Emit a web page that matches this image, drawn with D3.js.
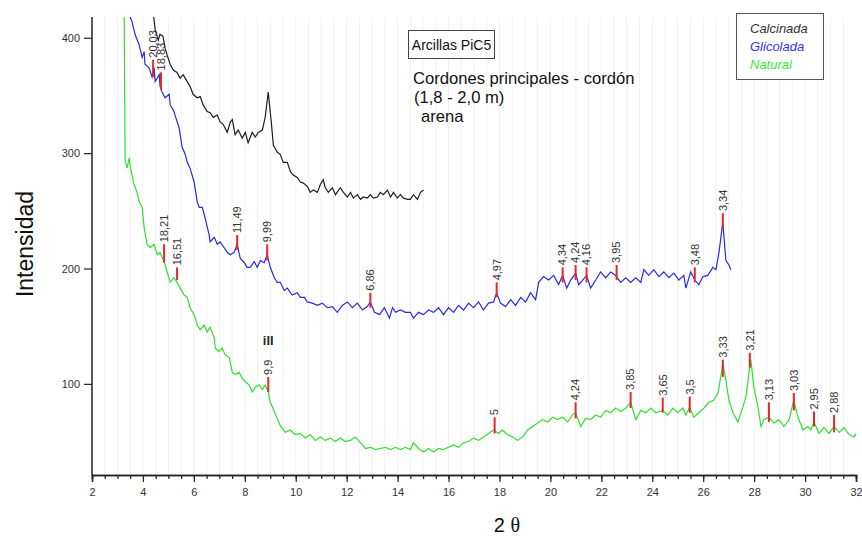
<!DOCTYPE html>
<html>
<head>
<meta charset="utf-8">
<script src="https://cdn.jsdelivr.net/npm/d3@7"></script>
<style>
  html, body { margin: 0; padding: 0; background: #fff; }
  svg { display: block; font-family: "Liberation Sans", Arial, sans-serif; }
</style>
</head>
<body>
<svg id="chart" width="862" height="538"></svg>
<script>
// ---------- DATA (2θ, intensidad) ----------
const xTicks = [2, 4, 6, 8, 10, 12, 14, 16, 18, 20, 22, 24, 26, 28, 30, 32];
const yTicks = [100, 200, 300, 400];
const seriesNames = ["Calcinada", "Glicolada", "Natural"];

const calcinada = [[4.36,430],[4.48,407],[4.60,398],[4.67,403],[4.79,401],[4.87,391],[4.95,385],[5.07,377],[5.19,372],[5.34,370],[5.46,365],[5.58,368],[5.74,362],[5.85,358],[5.97,351],[6.13,348],[6.25,349],[6.36,342],[6.52,336],[6.64,335],[6.76,331],[6.92,333],[7.03,327],[7.15,325],[7.31,318],[7.43,327],[7.51,329],[7.62,316],[7.74,320],[7.90,313],[8.02,318],[8.13,309],[8.29,318],[8.41,314],[8.53,318],[8.69,320],[8.80,331],[8.92,353],[9.04,327],[9.12,307],[9.27,301],[9.39,299],[9.51,292],[9.67,292],[9.79,284],[9.90,281],[10.06,279],[10.18,275],[10.30,274],[10.46,271],[10.57,266],[10.69,268],[10.85,266],[10.97,273],[11.08,277],[11.16,270],[11.28,266],[11.44,270],[11.56,264],[11.75,270],[11.87,266],[12.03,262],[12.15,266],[12.26,261],[12.42,264],[12.54,260],[12.66,262],[12.81,261],[12.93,264],[13.05,261],[13.21,262],[13.32,266],[13.44,264],[13.60,268],[13.72,262],[13.84,266],[13.99,261],[14.11,264],[14.23,261],[14.39,260],[14.50,260],[14.62,264],[14.78,260],[14.90,266],[15.02,268]];

const glicolada = [[3.34,430],[3.46,420],[3.57,414],[3.69,403],[3.85,394],[3.97,383],[4.05,388],[4.08,377],[4.24,374],[4.36,366],[4.44,374],[4.48,362],[4.64,368],[4.67,358],[4.75,353],[4.87,348],[5.03,351],[5.07,342],[5.22,336],[5.26,333],[5.42,322],[5.54,305],[5.66,299],[5.74,292],[5.85,287],[6.01,275],[6.13,258],[6.21,253],[6.33,253],[6.44,244],[6.60,229],[6.64,223],[6.80,227],[6.92,221],[7.03,223],[7.19,218],[7.31,214],[7.43,212],[7.58,214],[7.70,221],[7.82,209],[7.98,205],[8.09,201],[8.21,201],[8.37,206],[8.49,201],[8.61,207],[8.76,205],[8.88,212],[9.00,201],[9.16,192],[9.27,188],[9.39,188],[9.55,181],[9.67,183],[9.86,177],[10.06,179],[10.18,175],[10.34,175],[10.45,171],[10.65,170],[10.85,168],[11.04,170],[11.24,166],[11.44,167],[11.63,162],[11.83,168],[12.03,171],[12.22,166],[12.42,170],[12.62,164],[12.81,167],[12.93,171],[13.09,162],[13.29,160],[13.48,166],[13.68,157],[13.80,166],[13.92,162],[14.11,164],[14.31,162],[14.50,162],[14.62,157],[14.82,162],[15.02,160],[15.21,164],[15.41,162],[15.61,166],[15.80,160],[16.00,166],[16.20,162],[16.39,168],[16.59,164],[16.79,170],[16.98,166],[17.18,171],[17.37,164],[17.57,170],[17.77,171],[17.89,179],[18.04,170],[18.24,167],[18.44,173],[18.63,168],[18.83,175],[19.03,171],[19.22,179],[19.42,173],[19.54,188],[19.73,193],[19.93,190],[20.13,194],[20.32,186],[20.48,194],[20.64,183],[20.80,190],[20.99,196],[21.11,186],[21.27,190],[21.42,194],[21.58,183],[21.78,190],[21.97,197],[22.17,192],[22.37,197],[22.56,194],[22.76,188],[22.96,192],[23.15,188],[23.35,192],[23.55,188],[23.67,199],[23.86,194],[24.06,199],[24.26,193],[24.45,197],[24.65,192],[24.85,196],[25.04,190],[25.24,194],[25.32,183],[25.51,197],[25.67,190],[25.83,186],[25.99,193],[26.18,194],[26.38,201],[26.50,199],[26.62,214],[26.77,240],[26.89,207],[27.01,203],[27.09,199]];

const natural = [[3.26,430],[3.30,294],[3.38,287],[3.46,296],[3.49,290],[3.57,281],[3.65,273],[3.77,266],[3.85,258],[3.97,253],[4.05,235],[4.16,221],[4.28,218],[4.44,221],[4.56,212],[4.67,214],[4.83,206],[4.95,197],[5.07,188],[5.22,192],[5.34,188],[5.46,183],[5.62,177],[5.74,175],[5.85,166],[6.01,160],[6.13,151],[6.25,147],[6.40,151],[6.52,145],[6.64,149],[6.80,140],[6.84,131],[6.99,128],[7.11,131],[7.23,125],[7.39,123],[7.51,110],[7.62,108],[7.78,110],[7.90,105],[8.02,102],[8.17,99],[8.29,93],[8.41,97],[8.57,99],[8.69,95],[8.80,99],[8.92,93],[9.00,84],[9.16,76],[9.27,70],[9.39,64],[9.59,58],[9.79,60],[9.98,56],[10.18,57],[10.38,53],[10.57,56],[10.77,51],[10.97,54],[11.16,51],[11.36,53],[11.56,50],[11.75,53],[11.95,50],[12.15,51],[12.34,54],[12.54,49],[12.74,44],[12.93,45],[13.13,43],[13.32,44],[13.52,45],[13.72,43],[13.92,45],[14.11,43],[14.31,45],[14.50,43],[14.62,49],[14.82,44],[15.02,41],[15.21,44],[15.41,41],[15.61,44],[15.80,43],[16.00,45],[16.20,47],[16.39,45],[16.59,49],[16.79,50],[16.98,53],[17.18,51],[17.37,54],[17.57,57],[17.77,60],[17.96,57],[18.12,60],[18.32,56],[18.52,54],[18.71,51],[18.91,54],[19.11,60],[19.30,63],[19.50,66],[19.69,69],[19.89,67],[20.09,71],[20.28,69],[20.48,71],[20.68,67],[20.87,73],[20.99,75],[21.19,63],[21.38,70],[21.58,69],[21.78,73],[21.97,71],[22.17,77],[22.37,75],[22.56,79],[22.76,76],[22.96,79],[23.15,84],[23.35,69],[23.55,77],[23.74,75],[23.94,79],[24.14,75],[24.41,77],[24.61,73],[24.81,79],[25.00,75],[25.20,79],[25.32,73],[25.47,80],[25.63,71],[25.83,75],[26.03,79],[26.22,84],[26.42,86],[26.58,92],[26.69,106],[26.77,118],[26.89,103],[27.01,86],[27.17,75],[27.36,67],[27.56,80],[27.68,89],[27.80,110],[27.87,121],[27.99,97],[28.15,80],[28.27,63],[28.38,69],[28.58,71],[28.78,66],[28.97,69],[29.17,63],[29.37,69],[29.56,86],[29.72,71],[29.92,60],[30.11,63],[30.23,60],[30.35,67],[30.55,57],[30.74,62],[30.94,57],[31.14,63],[31.34,58],[31.53,62],[31.73,56],[31.92,54],[32.00,57]];

// peak labels: [d-spacing text, 2θ, tick bottom, tick top]
const glicoladaPeaks = [["20,03",4.40,366,381],["18,83",4.71,355,370],["11,49",7.70,216,229],["9,99",8.88,207,221],["6,86",12.93,166,179],["4,97",17.89,175,188],["4,34",20.48,188,201],["4,24",20.99,190,203],["4,16",21.42,188,201],["3,95",22.60,190,203],["3,48",25.67,188,201],["3,34",26.77,234,248]];
const naturalPeaks = [["18,21",4.83,205,221],["16,51",5.34,190,201],["9,9",8.92,93,106],["5",17.81,57,71],["4,24",20.99,70,84],["3,85",23.15,79,93],["3,65",24.41,75,88],["3,5",25.47,75,89],["3,33",26.77,106,121],["3,21",27.83,114,127],["3,13",28.58,67,84],["3,03",29.56,77,92],["2,95",30.35,63,76],["2,88",31.14,58,73]];

// ---------- CHART ----------
const svg = d3.select("#chart");
const W = 862, H = 538;
const plotLeft = 92, plotRight = 856, plotTop = 17, plotBottom = 475;
const x = d3.scaleLinear().domain([2, 32]).range([plotLeft, plotRight]);
const y = d3.scaleLinear().domain([21, 418]).range([plotBottom, plotTop]);

svg.append("rect").attr("width", W).attr("height", H).attr("fill", "#fff");

// faint vertical grid
svg.append("g").selectAll("line")
  .data(d3.range(2.5, 32, 0.5))
  .join("line")
  .attr("x1", d => x(d)).attr("x2", d => x(d))
  .attr("y1", plotTop).attr("y2", plotBottom)
  .attr("stroke", "#f1f1f1").attr("stroke-width", 1);

svg.append("defs").append("clipPath").attr("id", "plotclip")
  .append("rect").attr("x", plotLeft).attr("y", plotTop).attr("width", plotRight - plotLeft).attr("height", plotBottom - plotTop);

const line = d3.line().x(d => x(d[0])).y(d => y(d[1]));
const plot = svg.append("g").attr("clip-path", "url(#plotclip)");

const colors = { Calcinada: "#1e1e1e", Glicolada: "#2a2ae6", Natural: "#2fe02f" };
plot.append("path").datum(natural).attr("d", line).attr("fill", "none").attr("stroke", colors.Natural).attr("stroke-width", 1.2);
plot.append("path").datum(glicolada).attr("d", line).attr("fill", "none").attr("stroke", colors.Glicolada).attr("stroke-width", 1.2);
plot.append("path").datum(calcinada).attr("d", line).attr("fill", "none").attr("stroke", colors.Calcinada).attr("stroke-width", 1.2);

// peak ticks + labels
function drawPeaks(peaks) {
  const g = svg.append("g");
  g.selectAll("line").data(peaks).join("line")
    .attr("x1", d => x(d[1])).attr("x2", d => x(d[1]))
    .attr("y1", d => y(d[2])).attr("y2", d => y(d[3]))
    .attr("stroke", "#e8262b").attr("stroke-width", 2);
  g.selectAll("text").data(peaks).join("text")
    .attr("transform", d => `translate(${x(d[1])},${y(d[3]) - 2}) rotate(-90)`)
    .attr("text-anchor", "start")
    .attr("dy", "0.35em")
    .attr("font-size", 11)
    .attr("fill", "#333")
    .text(d => d[0]);
}
drawPeaks(glicoladaPeaks);
drawPeaks(naturalPeaks);

svg.append("text").attr("x", x(8.92)).attr("y", y(134)).attr("text-anchor", "middle")
  .attr("font-size", 13).attr("font-weight", "bold").attr("fill", "#222").text("ill");

// axes
const xAxisG = svg.append("g").attr("transform", `translate(0,${plotBottom})`);
xAxisG.append("g").call(d3.axisBottom(x).tickValues(d3.range(2, 32.01, 0.5)).tickSize(4).tickFormat(""));
xAxisG.append("g").call(d3.axisBottom(x).tickValues(xTicks).tickSize(7).tickPadding(6).tickFormat(d3.format("d")));
xAxisG.selectAll("path.domain").attr("stroke", "#222").attr("stroke-width", 1.5);
xAxisG.selectAll("line").attr("stroke", "#222").attr("stroke-width", 1.2);
xAxisG.selectAll("text").attr("font-size", 11).attr("fill", "#333").attr("font-family", "Liberation Sans, Arial, sans-serif");

const yAxisG = svg.append("g").attr("transform", `translate(${plotLeft},0)`);
yAxisG.call(d3.axisLeft(y).tickValues(yTicks).tickSize(8).tickPadding(4).tickSizeOuter(0));
yAxisG.select("path.domain").attr("d", `M0,${plotTop}V${plotBottom}`).attr("stroke", "#222").attr("stroke-width", 1.5);
yAxisG.selectAll("line").attr("stroke", "#222").attr("stroke-width", 1.2);
yAxisG.selectAll("text").attr("font-size", 11).attr("fill", "#333").attr("font-family", "Liberation Sans, Arial, sans-serif");

// axis titles
svg.append("text").attr("transform", `translate(33,244) rotate(-90)`).attr("text-anchor", "middle")
  .attr("font-size", 23).attr("fill", "#111").text("Intensidad");
const xt = svg.append("text").attr("x", 507).attr("y", 532).attr("text-anchor", "middle").attr("font-size", 20).attr("fill", "#111");
xt.append("tspan").text("2 ");
xt.append("tspan").attr("font-family", "Liberation Serif, serif").text("θ");

// title box
svg.append("rect").attr("x", 408.5).attr("y", 30.5).attr("width", 86).attr("height", 28)
  .attr("fill", "#fff").attr("stroke", "#444").attr("stroke-width", 1);
svg.append("text").attr("x", 451.5).attr("y", 50).attr("text-anchor", "middle").attr("font-size", 14).attr("fill", "#111").text("Arcillas PiC5");
svg.append("text").attr("x", 413).attr("y", 84).attr("font-size", 16.6).attr("fill", "#111").text("Cordones principales - cordón");
svg.append("text").attr("x", 414).attr("y", 103).attr("font-size", 16.6).attr("fill", "#111").text("(1,8 - 2,0 m)");
svg.append("text").attr("x", 421).attr("y", 122).attr("font-size", 16.6).attr("fill", "#111").text("arena");

// legend
svg.append("rect").attr("x", 736.5).attr("y", 13.5).attr("width", 87).attr("height", 66)
  .attr("fill", "#fff").attr("stroke", "#555").attr("stroke-width", 1);
const legendColors = { Calcinada: "#333", Glicolada: "#3333ee", Natural: "#33ee33" };
svg.append("g").selectAll("text").data(seriesNames).join("text")
  .attr("x", 750).attr("y", (d, i) => 33 + i * 18)
  .attr("font-size", 13).attr("font-style", "italic")
  .attr("fill", d => legendColors[d]).text(d => d);
</script>
</body>
</html>
